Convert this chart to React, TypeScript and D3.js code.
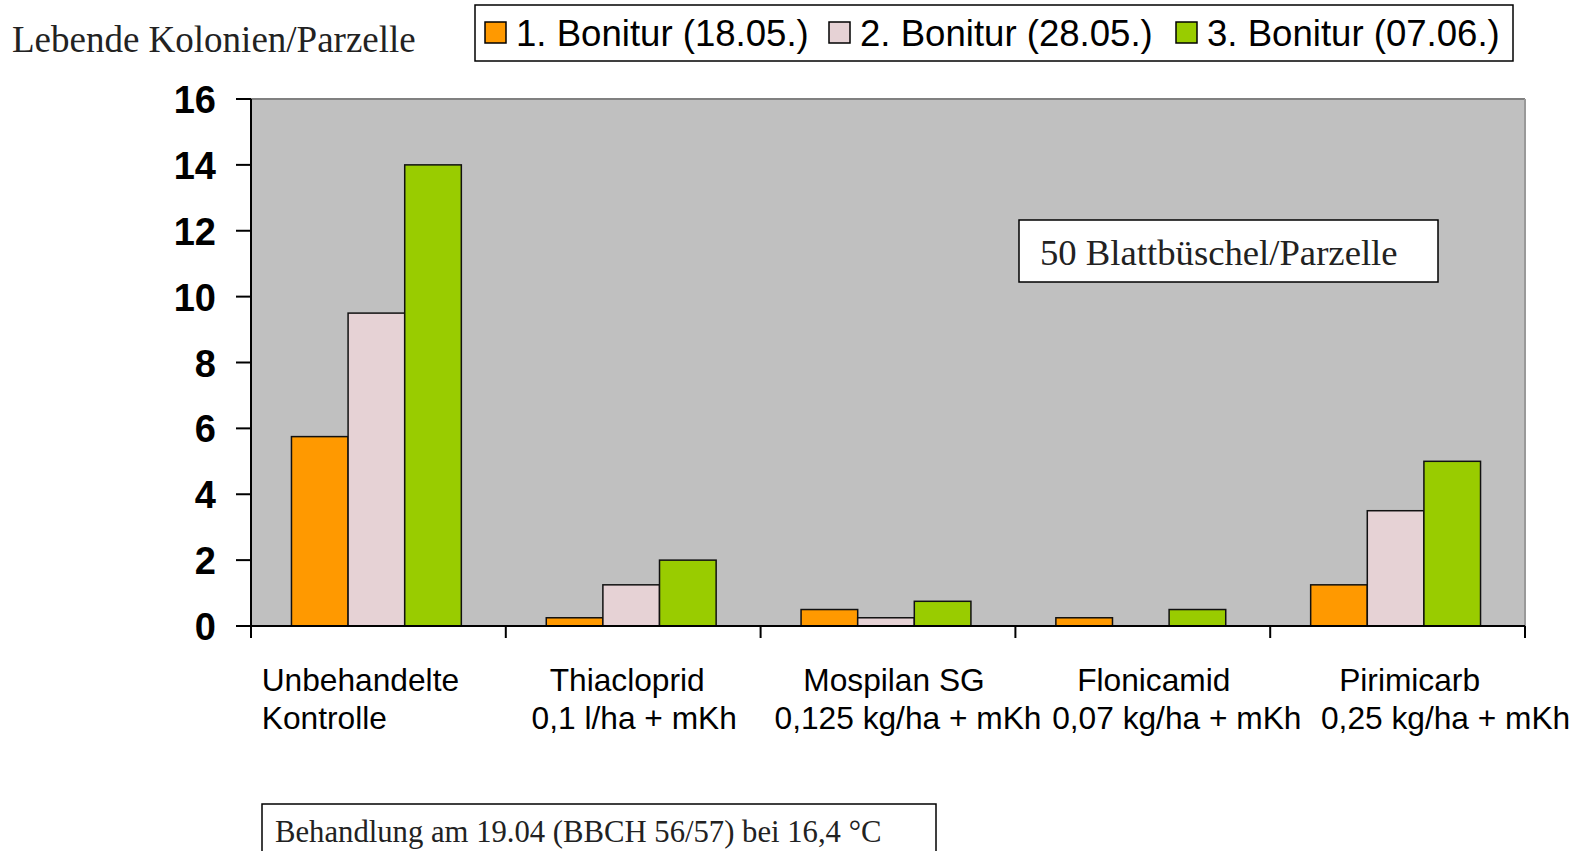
import * as d3 from 'd3'

const categories: string[] = ['Unbehandelte Kontrolle', 'Thiacloprid', 'Mospilan SG', 'Flonicamid', 'Pirimicarb']
const labelLines: string[][] = [
    ['Unbehandelte', 'Kontrolle'],
    ['Thiacloprid', '0,1 l/ha + mKh'],
    ['Mospilan SG', '0,125 kg/ha + mKh'],
    ['Flonicamid', '0,07 kg/ha + mKh'],
    ['Pirimicarb', '0,25 kg/ha + mKh'],
]
const seriesNames: string[] = ['1. Bonitur (18.05.)', '2. Bonitur (28.05.)', '3. Bonitur (07.06.)']
const bonitur1: number[] = [5.75, 0.25, 0.5, 0.25, 1.25]
const bonitur2: number[] = [9.5, 1.25, 0.25, 0, 3.5]
const bonitur3: number[] = [14, 2, 0.75, 0.5, 5]
const yTicks: number[] = [0, 2, 4, 6, 8, 10, 12, 14, 16]

const colors: string[] = ['#FF9900', '#E6D2D5', '#99CC00']

const W = 1581
const H = 851
const margin = { top: 99, left: 251, right: 56, bottom: 225 }

// label offsets from the band centre (the source labels are not centred evenly)
const labelShift: number[][] = [[-18, -54], [-6, 1], [6, 20], [11, 34], [12, 48]]

export default function App() {
    document.body.style.margin = '0'
    const x = d3.scaleBand<string>()
        .domain(categories)
        .range([margin.left, W - margin.right])
    const x1 = d3.scaleBand<string>()
        .domain(seriesNames)
        .range([0, x.bandwidth()])
        .paddingInner(0)
        .paddingOuter(0.75)
    const y = d3.scaleLinear()
        .domain([0, 16])
        .range([H - margin.bottom, margin.top])

    const series = [bonitur1, bonitur2, bonitur3]
    const x0 = margin.left
    const xEnd = W - margin.right
    const y0 = y(0)
    const sans = '"Liberation Sans", Arial, sans-serif'
    const serif = '"Liberation Serif", "Times New Roman", serif'

    const legendX = [485, 829, 1176]

    return (
        <svg width={W} height={H} style={{ display: 'block' }}>
            <rect x={0} y={0} width={W} height={H} fill="#fff" />
            <text x={12} y={52} fontFamily={serif} fontSize={37} fill="#222">Lebende Kolonien/Parzelle</text>

            {/* legend */}
            <rect x={475} y={5} width={1038} height={56} fill="#fff" stroke="#000" strokeWidth={1.5} />
            {seriesNames.map((s, i) => (
                <g key={s}>
                    <rect x={legendX[i]} y={22} width={21} height={21} fill={colors[i]} stroke="#000" strokeWidth={1.5} />
                    <text x={legendX[i] + 31} y={46} fontFamily={sans} fontSize={36.6} fill="#000">{s}</text>
                </g>
            ))}

            {/* plot area */}
            <rect x={x0} y={margin.top} width={xEnd - x0} height={y0 - margin.top} fill="#C0C0C0" />
            <line x1={x0} x2={xEnd} y1={margin.top} y2={margin.top} stroke="#808080" strokeWidth={2} />
            <line x1={xEnd} x2={xEnd} y1={margin.top} y2={y0} stroke="#999" strokeWidth={2} />

            {categories.map((c, ci) => (
                <g key={c}>
                    {seriesNames.map((s, si) => {
                        const v = series[si][ci]
                        if (v <= 0) return null
                        return (
                            <rect key={s}
                                x={(x(c) as number) + (x1(s) as number) - 2}
                                y={y(v)}
                                width={x1.bandwidth()}
                                height={y0 - y(v)}
                                fill={colors[si]} stroke="#111" strokeWidth={1.5} />
                        )
                    })}
                </g>
            ))}

            {/* y axis */}
            <line x1={x0} x2={x0} y1={margin.top} y2={y0 + 12} stroke="#000" strokeWidth={2} />
            {yTicks.map(t => (
                <g key={t}>
                    <line x1={x0 - 15} x2={x0} y1={y(t)} y2={y(t)} stroke="#000" strokeWidth={2} />
                    <text x={216} y={y(t) + 14} textAnchor="end" fontFamily={sans} fontWeight="bold" fontSize={38} fill="#000">{t}</text>
                </g>
            ))}

            {/* x axis */}
            <line x1={x0} x2={xEnd} y1={y0} y2={y0} stroke="#000" strokeWidth={2} />
            {[...categories.map(c => x(c) as number), xEnd].map((tx, i) => (
                <line key={i} x1={tx} x2={tx} y1={y0} y2={y0 + 12} stroke="#000" strokeWidth={2} />
            ))}
            {categories.map((c, ci) => {
                const cx = (x(c) as number) + x.bandwidth() / 2
                return (
                    <g key={c}>
                        {labelLines[ci].map((l, li) => (
                            <text key={li} x={cx + labelShift[ci][li]} y={691 + li * 38} textAnchor="middle"
                                fontFamily={sans} fontSize={31.7} fill="#000">{l}</text>
                        ))}
                    </g>
                )
            })}

            {/* annotation boxes */}
            <rect x={1019} y={220} width={419} height={62} fill="#fff" stroke="#000" strokeWidth={1.5} />
            <text x={1040} y={265} fontFamily={serif} fontSize={36.7} fill="#222">50 Blattbüschel/Parzelle</text>

            <rect x={262} y={804} width={674} height={60} fill="#fff" stroke="#000" strokeWidth={1.5} />
            <text x={275} y={842} fontFamily={serif} fontSize={30.7} fill="#222">Behandlung am 19.04 (BBCH 56/57) bei 16,4 °C</text>
        </svg>
    )
}
